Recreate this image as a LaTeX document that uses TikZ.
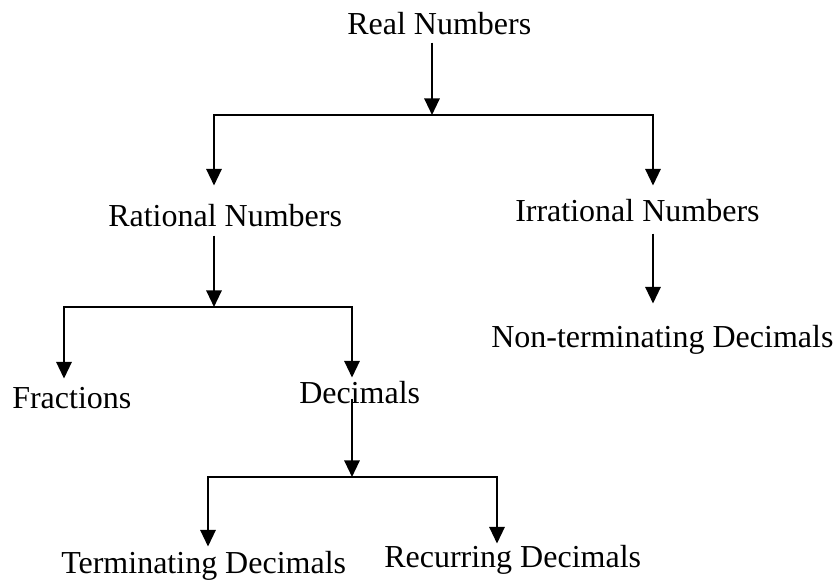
\documentclass[tikz,border=0pt]{standalone}
\usepackage{fontspec}
\setmainfont{Liberation Serif}
\usetikzlibrary{arrows.meta,calc}

\tikzset{
	txt/.style={inner sep=0pt,anchor=base west,font=\fontsize{24}{28}\selectfont},
	arr/.style={-{Triangle[width=11.5pt,length=12.5pt]},line width=1.6pt}
}

\begin{document}
\begin{tikzpicture}[x=0.75pt,y=-0.75pt]
\useasboundingbox (0,0) rectangle (837,581);

\node[txt] (real) at (347,35) {Real Numbers};
\node[txt] (rat) at (108,226) {Rational Numbers};
\node[txt] (irr) at (515,221) {Irrational Numbers};
\node[txt] (nonterm) at (491,347) {Non-terminating Decimals};
\node[txt] (frac) at (12,408) {Fractions};
\node[txt] (dec) at (299,403) {Decimals};
\node[txt] (term) at (61,573) {Terminating Decimals};
\node[txt] (recur) at (384,567) {Recurring Decimals};

% branch points
\coordinate (top) at (432,115);
\coordinate (topl) at (214,115);
\coordinate (topr) at (653,115);
\coordinate (mid) at (214,307);
\coordinate (midl) at (64,307);
\coordinate (midr) at (352,307);
\coordinate (low) at (352,477);
\coordinate (lowl) at (208,477);
\coordinate (lowr) at (497,477);

\draw[arr] ($(real.south -| top)+(0,7)$) -- (top);
\draw[arr] (top) -| ($(rat.north -| topl)+(0,-18)$);
\draw[arr] (top) -| ($(irr.north -| topr)+(0,-13)$);

\draw[arr] ($(rat.south -| mid)+(0,9)$) -- (mid);
\draw[arr] (mid) -| ($(frac.north -| midl)+(0,-8)$);
\draw[arr] (mid) -| ($(dec.north -| midr)+(0,-3)$);

\draw[arr] ($(dec.south -| low)+(0,-5)$) -- (low);
\draw[arr] (low) -| ($(term.north -| lowl)+(0,-4)$);
\draw[arr] (low) -| ($(recur.north -| lowr)+(0,-1)$);

\draw[arr] ($(irr.south -| topr)+(0,12)$) -- ($(nonterm.north -| topr)+(0,-21)$);
\end{tikzpicture}
\end{document}
